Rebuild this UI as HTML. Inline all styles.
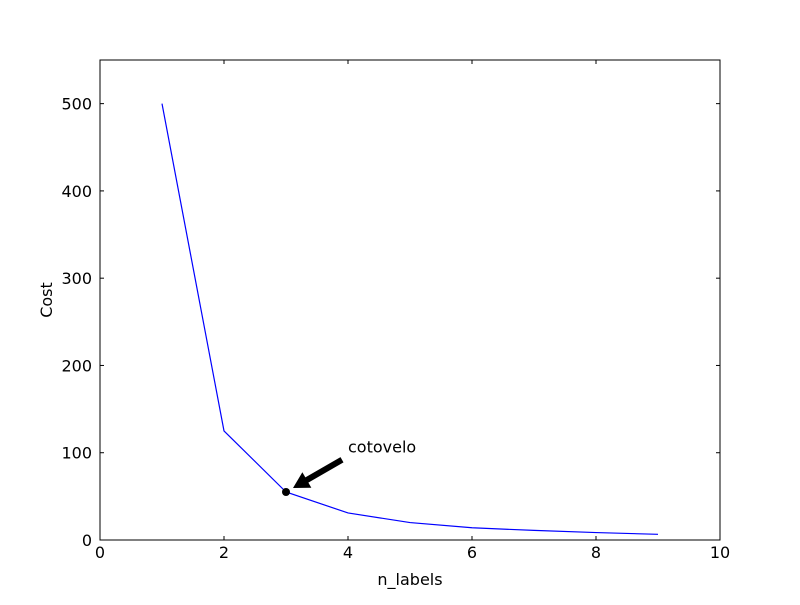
<!DOCTYPE html>
<html><head><meta charset="utf-8"><style>
body{margin:0;background:#fff}
svg text{font-family:"DejaVu Sans","Liberation Sans",sans-serif;font-size:16px;fill:#000}
</style></head><body>
<svg id="chart" width="800" height="600">
<rect width="800" height="600" fill="#fff"/>
<g id="ticks"></g>
<polyline id="line" fill="none" stroke="#0000ff" stroke-width="1.2"/>
<g id="annot"></g>
<rect x="100" y="60" width="620" height="480" fill="none" stroke="#000" stroke-width="1"/>
<text x="410" y="585" text-anchor="middle">n_labels</text>
<text x="52" y="300" text-anchor="middle" transform="rotate(-90 52 300)">Cost</text>
</svg>
<script>
const xValues=[1,2,3,4,5,6,7,8,9];
const costValues=[500,125,55,31,20,14,11,8.5,6.5];
const xTicks=[0,2,4,6,8,10];
const yTicks=[0,100,200,300,400,500];
const elbowX=3, elbowY=55, labelX=4, labelY=100, labelText="cotovelo";
const X=v=>100+v*62, Y=v=>540-v*480/550;
const NS="http://www.w3.org/2000/svg";
const tg=document.getElementById('ticks');
function mk(t,a,p){const e=document.createElementNS(NS,t);for(const k in a)e.setAttribute(k,a[k]);p.appendChild(e);return e;}
xTicks.forEach(v=>{
 const l1=mk('line',{x1:X(v),x2:X(v),y1:540,y2:536,stroke:'#000'},tg);
 
 
 const l2=mk('line',{x1:X(v),x2:X(v),y1:60,y2:64,stroke:'#000'},tg);
 
 
 const t=mk('text',{x:X(v),y:558,'text-anchor':'middle'},tg);t.textContent=v;
 
 
});
yTicks.forEach(v=>{
 const l1=mk('line',{x1:100,x2:104,y1:Y(v),y2:Y(v),stroke:'#000'},tg);
 
 
 const l2=mk('line',{x1:716,x2:720,y1:Y(v),y2:Y(v),stroke:'#000'},tg);
 
 
 const t=mk('text',{x:92,y:Y(v)+6,'text-anchor':'end'},tg);t.textContent=v;
 
 
});
document.getElementById('line').setAttribute('points',xValues.map((x,i)=>X(x)+','+Y(costValues[i])).join(' '));
const ag=document.getElementById('annot');
const px=X(elbowX),py=Y(elbowY),tx=X(labelX),ty=Y(labelY);
const dot=mk('circle',{cx:px,cy:py,r:4,fill:'#000'},ag);


const sx=tx-6,sy=ty+7,ex=px+7,ey=py-4;
const dx=ex-sx,dy=ey-sy,len=Math.hypot(dx,dy),ux=dx/len,uy=dy/len,nx=-uy,ny=ux;
const hl=16,sw=3,hw=9;
const bx=ex-ux*hl,by=ey-uy*hl;
const pts=[[sx+nx*sw,sy+ny*sw],[bx+nx*sw,by+ny*sw],[bx+nx*hw,by+ny*hw],[ex,ey],[bx-nx*hw,by-ny*hw],[bx-nx*sw,by-ny*sw],[sx-nx*sw,sy-ny*sw]];
const arr=mk('polygon',{points:pts.map(p=>p.join(',')).join(' '),fill:'#000'},ag);


const at=mk('text',{x:tx,y:ty},ag);at.textContent=labelText;


</script>
</body></html>
